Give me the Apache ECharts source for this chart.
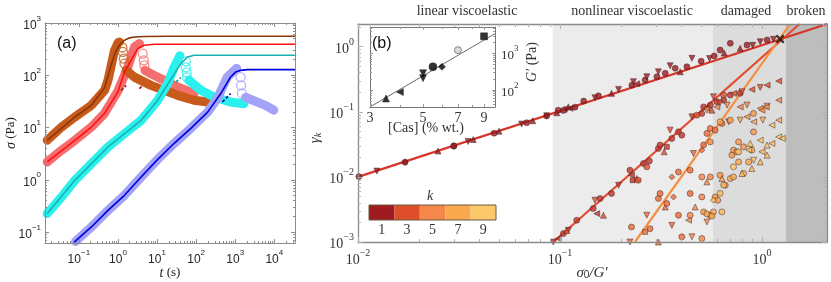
<!DOCTYPE html>
<html><head><meta charset="utf-8">
<script src="https://cdn.jsdelivr.net/npm/echarts@6/dist/echarts.min.js"></script>
<style>html,body{margin:0;padding:0;background:#fff}#c{width:831px;height:282px}</style>
</head><body><div id="c"></div>
<script>
// ================= Panel (a): [t (s), sigma (Pa)] =================
const brownBand      = [[0.0155,5.7],[0.036,10.2],[0.079,15.9],[0.209,26.6],[0.456,51.5],[0.557,80],[0.676,155],[0.819,300],[1.02,427],[1.10,433]];
const brownBandAfter = [[1.63,124],[2.64,92],[7.0,64],[33.6,41.3],[89,33.2],[195,30.8]];
const brownOpen      = [[1.30,340],[1.34,279],[1.42,208],[1.47,167]];
const brownModel     = [[0.0155,5.7],[0.079,15.9],[0.209,26.6],[0.456,58],[0.676,160],[0.9,300],[1.1,380],[1.47,467],[2.0,520],[2.64,540],[5,553],[20,556],[33800,556]];
const brownDash      = [[1.21,51.5],[1.63,64]];

const salmonBand      = [[0.0155,2.19],[0.036,3.66],[0.079,5.69],[0.209,10.2],[0.45,18.5],[1.0,50],[1.8,144],[2.64,347],[3.55,404]];
const salmonBandAfter = [[4.9,124],[7.0,107],[33.6,59.6],[89,44.6]];
const salmonOpen      = [[4.3,259],[4.6,193],[4.75,155]];
const redModel        = [[0.0155,2.19],[0.079,5.69],[0.209,10.2],[0.45,18.5],[1.0,48],[1.47,115],[2.41,223],[3.23,324],[4.75,374],[8.5,391],[33800,391]];
const redDash         = [[3.55,55.5],[4.33,64]];

const cyanBand      = [[0.0155,0.225],[0.036,0.468],[0.079,0.975],[0.209,2.04],[0.557,4.24],[1.47,7.64],[3.92,13.7],[10.4,33.2],[18.7,69.2],[27.5,144],[38.5,236]];
const cyanBandAfter = [[65.2,80],[132,51.5],[287,38.4],[748,30.8],[1660,28.6]];
const cyanOpen      = [[54.7,185],[54.7,142],[57,114],[59,91]];
const tealModel     = [[0.0155,0.225],[0.079,0.975],[0.557,4.24],[3.92,13.7],[10.4,33.2],[23,86],[40.8,167],[60,223],[89,241],[33800,241]];
const tealDash      = [[30.4,74.3],[40.8,90]];

const lavBand      = [[0.082,0.066],[0.209,0.125],[0.557,0.26],[1.47,0.504],[3.92,1.13],[10.4,2.46],[27.5,4.99],[73.3,9.66],[195,19.5],[351,36.2],[630,92.6],[1090,136]];
const lavBandAfter = [[1840,37.9],[3300,31.7],[5940,26.6],[9700,21.5]];
const lavOpen      = [[1370,92],[1420,64],[1480,45]];
const blueModel    = [[0.076,0.064],[0.209,0.125],[0.557,0.26],[1.47,0.504],[3.92,1.13],[10.4,2.46],[27.5,4.99],[73.3,9.66],[195,19.5],[428,44.6],[764,92.6],[1023,115],[1371,124],[2032,128],[33800,128]];
const blueDash     = [[470,30.8],[764,44.6]];

// ================= Panel (b): [sigma0/G', gamma_k, shape] =================
// shapes: 0 circle, 1 triangle up, 2 triangle down, 3 triangle left, 4 square, 5 diamond, 6 circle-x
const k1Points = [[0.0101,0.0101,0],[0.0124,0.0123,2],[0.0171,0.0170,5],[0.0171,0.0168,0],[0.0249,0.0250,1],[0.0298,0.0297,0],[0.0298,0.030,6],[0.0351,0.0350,2],[0.0372,0.0375,1],[0.0472,0.047,0],[0.0499,0.0505,1],[0.0646,0.0648,2],[0.0684,0.068,0],[0.0733,0.073,1],[0.0859,0.086,0],[0.0859,0.087,2],[0.0964,0.097,1],[0.1038,0.105,0],[0.1079,0.108,2],[0.112,0.113,3],[0.1186,0.118,0],
  [0.098,0.106,0],[0.110,0.119,1],[0.131,0.146,0],[0.149,0.164,2],[0.155,0.176,0],[0.180,0.192,1],[0.195,0.221,2],[0.227,0.257,0],[0.231,0.290,2],[0.24,0.27,3],[0.264,0.307,0],[0.269,0.345,2],[0.302,0.345,0],[0.307,0.412,2],[0.332,0.390,0],[0.351,0.510,2],[0.372,0.466,0],[0.394,0.412,1],[0.425,0.492,0],[0.450,0.663,2],[0.50,0.60,0],[0.55,0.66,2],[0.58,0.72,0],[0.621,0.889,0],[0.65,0.80,1],[0.697,1.13,0],[0.780,0.945,1],[0.843,1.06,0],[0.9,1.05,2],[0.981,1.19,2],[1.06,1.27,0],[1.14,1.30,2]];
const k2Points = [[0.0927,0.00100,2],[0.098,0.00113,3],[0.104,0.00135,0],[0.110,0.00151,2],[0.121,0.00216,0],[0.146,0.00327,0],[0.152,0.00273,3],[0.158,0.00466,0],[0.180,0.00556,0],[0.195,0.00745,2],[0.222,0.0127,0],[0.226,0.0106,3],[0.229,0.00889,4],[0.259,0.0161,0],[0.277,0.0176,6],[0.307,0.0274,0],[0.313,0.0308,0],[0.338,0.0290,4],[0.358,0.0390,0],[0.386,0.0492,0],[0.401,0.0438,6],[0.450,0.0838,2],[0.504,0.0944,0],[0.514,0.119,0],[0.555,0.127,0],[0.598,0.143,0],[0.646,0.151,0],[0.697,0.181,0],[0.780,0.192,0]];
const k3Points = [[0.108,0.0015,1],[0.149,0.00438,2],[0.164,0.00258,1],[0.240,0.00944,1],[0.244,0.00889,0],[0.269,0.01426,0],[0.328,0.0243,1],[0.351,0.0523,2],[0.476,0.0889,0],[0.534,0.113,3],[0.565,0.106,1],[0.617,0.135,2],[0.575,0.170,2],[0.646,0.181,0],[0.723,0.192,3],[0.796,0.203,2],[0.891,0.221,3],[0.98,0.237,2],[1.06,0.257,3],[1.21,0.297,3]];
const k4Points = [[0.226,0.0017,0],[0.222,0.001,2],[0.264,0.00143,4],[0.279,0.0016,0],[0.269,0.00258,2],[0.307,0.00466,0],[0.313,0.00556,6],[0.332,0.00345,1],[0.338,0.0039,0],[0.358,0.0018,2],[0.365,0.00492,5],[0.307,0.001,1],[0.386,0.00258,0],[0.401,0.0012,6],[0.441,0.00556,6],[0.358,0.01,5],[0.386,0.0119,0],[0.441,0.0127,6],[0.458,0.0229,2],[0.504,0.0258,5],[0.514,0.0308,6],[0.534,0.0466,0],[0.555,0.0555,6],[0.586,0.0523,0],[0.634,0.0662,0],[0.684,0.0702,2]];
const k5Points = [[0.433,0.00216,3],[0.45,0.0012,2],[0.441,0.00258,6],[0.467,0.00345,1],[0.504,0.00113,6],[0.504,0.00492,6],[0.534,0.00203,2],[0.555,0.00258,6],[0.504,0.01,0],[0.555,0.01,0],[0.534,0.0084,1],[0.555,0.0345,6],[0.534,0.106,2],[0.598,0.119,3],[0.672,0.127,2],[0.780,0.119,3],[0.843,0.127,2],[0.981,0.113,3],[1.06,0.122,2],[1.21,0.151,3]];
const k6Points = [[0.514,0.0029,0],[0.586,0.00492,6],[0.604,0.00438,0],[0.621,0.0106,6],[0.634,0.00944,1],[0.658,0.00745,0],[0.71,0.0216,6],[0.723,0.0258,6],[0.751,0.0243,0],[0.766,0.0345,0],[0.811,0.029,6],[0.908,0.0492,0],[0.843,0.0838,3],[0.908,0.0944,0],[1.0,0.106,3],[1.05,0.119,3]];
const k7Points = [[0.621,0.0702,0],[0.697,0.0745,6],[0.78,0.0745,2],[0.91,0.0702,3],[1.01,0.0745,2],[1.21,0.0745,3],[0.697,0.00944,6],[0.723,0.01,0],[0.766,0.017,0],[0.811,0.0113,6],[0.859,0.017,6],[0.891,0.0258,0],[0.575,0.0029,0],[0.534,0.0027,6],[0.565,0.0025,0]];
const k8Points = [[0.891,0.0135,1],[0.98,0.017,1],[1.0,0.0243,3],[1.06,0.0216,1],[1.12,0.0327,3],[0.646,0.0075,6],[0.621,0.0056,0],[0.575,0.0044,5],[0.634,0.0029,0]];
const k9Points = [[0.875,0.0327,1],[0.98,0.0366,3],[1.06,0.0308,1],[1.21,0.0412,3],[0.766,0.0243,0],[0.86,0.026,3],[1.12,0.0624,3],[1.26,0.039,3],[0.723,0.0143,0],[0.796,0.0113,1],[0.91,0.018,2]];
const fitLine1 = [[0.01,0.01],[2.1,2.23]];
const fitLine2 = [[0.0927,0.001],[1.535,2.23]];
const fitLine3 = [[0.235,0.001],[1.377,2.23]];
const crossPoint = [[1.23,1.31]];
const regionStart = [0.092, 0.571, 1.31];
const regionEnd   = [0.571, 1.31, 2.1];
const regionNames = ['linear viscoelastic','nonlinear viscoelastic','damaged','broken'];
const colorbarTicks = ['1','3','5','7','9'];

// ================= Inset: [Cas (% wt.), G' (Pa), shape] =================
const insetPoints = [[3.5,58,1],[4,87,3],[5,285,2],[5,210,2],[5.5,430,0],[6,430,5],[7,1230,6],[9,2950,4]];
const insetFit = [[3,34],[10,3500]];
const insetXTicks = [3,5,7,9];

// ----------------------------------------------------------------
const L = Math.log10;
const T = arr => arr.map(p => [L(p[0]), L(p[1])].concat(p.slice(2)));
const kColors = ['#9e1b22','#c3342a','#df4e2a','#ec6a38','#f5874a','#f8984c','#f9a94e','#fbb95c','#fdc86a'];
const SHAPES = ['circle','triangle','path://M0,0L2,0L1,1.75Z','path://M1.75,0L1.75,2L0,1Z','rect','diamond','circle'];
const SANS = 'Liberation Sans', SERIF = 'Liberation Serif';

function minors(eMin, eMax, lo, hi){ const r=[]; for(let e=eMin;e<=eMax;e++) for(let m=2;m<=9;m++){const v=e+L(m); if(v>lo&&v<hi) r.push(v);} return r; }
function sup(v){ const n=Math.round(v); return n<0 ? '\u2212'+(-n) : String(n); }
const powFmt = v => '{b|10}{s|' + sup(v) + '}';
function powRich(font, size, color){ return { b:{fontFamily:font,fontSize:size,color:color,verticalAlign:'bottom',lineHeight:size+5}, s:{fontFamily:font,fontSize:Math.round(size*0.68),color:color,verticalAlign:'top',lineHeight:Math.round(size*0.75)} }; }

const xAxes=[], yAxes=[];
function addAxes(list, dim, grid, o){
  const idx = list.length;
  const A = dim==='x'?'bottom':'left', B = dim==='x'?'top':'right';
  const mainPos = o.labelSide || A, other = mainPos===A?B:A;
  const base = {type:'value', gridIndex:grid, min:o.min, max:o.max, splitLine:{show:false}, z:6, silent:true};
  const line = {show:true, onZero:false, lineStyle:{color:o.color, width:o.lw||1}};
  const noLine = {show:false, onZero:false};
  list.push(Object.assign({}, base, {position:mainPos, axisLine:line,
    axisTick:{show:true, inside:true, length:o.majorLen, customValues:o.majors, lineStyle:{color:o.tickColor||o.color}},
    axisLabel:Object.assign({show:true, customValues:o.majors, formatter:o.fmt}, o.label)}));
  list.push(Object.assign({}, base, {position:other, axisLine:line,
    axisTick:{show:true, inside:true, length:o.majorLen, customValues:o.majors, lineStyle:{color:o.tickColor||o.color}}, axisLabel:{show:false}}));
  list.push(Object.assign({}, base, {position:mainPos, axisLine:noLine,
    axisTick:{show:true, inside:true, length:o.minorLen, customValues:o.minorVals, lineStyle:{color:o.tickColor||o.color}}, axisLabel:{show:false}}));
  list.push(Object.assign({}, base, {position:other, axisLine:noLine,
    axisTick:{show:true, inside:true, length:o.minorLen, customValues:o.minorVals, lineStyle:{color:o.tickColor||o.color}}, axisLabel:{show:false}}));
  return idx;
}

// Panel a axes
const aX = addAxes(xAxes,'x',0,{min:-1.866,max:4.53,majors:[-1,0,1,2,3,4],minorVals:minors(-2,4,-1.866,4.53),color:'#8c8c8c',majorLen:4,minorLen:2,
  fmt:powFmt,label:{margin:6,rich:powRich(SANS,12,'#262626')}});
const aY = addAxes(yAxes,'y',0,{min:-1.21,max:3.0,majors:[-1,0,1,2,3],minorVals:minors(-2,2,-1.21,3.0),color:'#8c8c8c',majorLen:4,minorLen:2,
  fmt:powFmt,label:{margin:4,rich:powRich(SANS,12,'#262626')}});
// Panel b axes
const bX = addAxes(xAxes,'x',1,{min:-2,max:0.322,majors:[-2,-1,0],minorVals:minors(-2,0,-2,0.322),color:'#8a8a8a',tickColor:'#b0b0b0',lw:1.3,majorLen:5,minorLen:3,
  fmt:powFmt,label:{margin:6,rich:powRich(SERIF,14,'#333')}});
const bY = addAxes(yAxes,'y',1,{min:-3,max:0.349,majors:[-3,-2,-1,0],minorVals:minors(-3,0,-3,0.349),color:'#8a8a8a',tickColor:'#b0b0b0',lw:1.3,majorLen:5,minorLen:3,
  fmt:powFmt,label:{margin:4,rich:powRich(SERIF,14,'#333')}});
// Inset axes
const iX = addAxes(xAxes,'x',2,{min:L(3),max:1.0,majors:insetXTicks.map(L),minorVals:[L(4),L(6),L(8)],color:'#777',tickColor:'#999',majorLen:3,minorLen:2,
  fmt:v=>String(Math.round(Math.pow(10,v))),label:{margin:4,fontFamily:SERIF,fontSize:14,color:'#333'}});
const iY = addAxes(yAxes,'y',2,{min:1.53,max:3.725,majors:[2,3],minorVals:minors(1,3,1.53,3.725),color:'#777',tickColor:'#999',majorLen:3,minorLen:2,labelSide:'right',
  fmt:powFmt,label:{margin:6,rich:powRich(SERIF,13,'#333')}});

const series = [];
function band(data, color, z){ series.push({type:'line', xAxisIndex:aX, yAxisIndex:aY, data:T(data), symbol:'none', clip:false, z:z, silent:true,
  lineStyle:{width:9, color:color, cap:'round', join:'round'}}); }
function model(data, color, z, dashed){ series.push({type:'line', xAxisIndex:aX, yAxisIndex:aY, data:T(data), symbol:'none', z:z, silent:true,
  lineStyle:{width:1.6, color:color, type:dashed?[3,2]:'solid'}}); }
function openC(data, color, z){ series.push({type:'scatter', xAxisIndex:aX, yAxisIndex:aY, data:T(data), symbol:'circle', symbolSize:9, z:z, silent:true,
  itemStyle:{color:'rgba(0,0,0,0)', borderColor:color, borderWidth:1.3}}); }

band(salmonBand,'#f56e6e',2); band(salmonBandAfter,'#f56e6e',2); openC(salmonOpen,'#f56e6e',2);
band(brownBand,'#c85a1c',3); band(brownBandAfter,'#c85a1c',3); openC(brownOpen,'#c85a1c',3);
band(cyanBand,'#2cf0ee',4); band(cyanBandAfter,'#2cf0ee',4); openC(cyanOpen,'#2cf0ee',4);
band(lavBand,'#a2a2f6',5); band(lavBandAfter,'#a2a2f6',5); openC(lavOpen,'#a2a2f6',5);
model(brownModel,'#8a3608',6); model(redModel,'#ff1010',6); model(tealModel,'#19b2b0',6); model(blueModel,'#0000e0',6);
model(brownDash,'#7a2e06',7,true); model(redDash,'#c00000',7,true); model(tealDash,'#119090',7,true); model(blueDash,'#0000a0',7,true);

// Panel b shaded regions
const regionColors = ['#ececec','#dcdcdc','#bdbdbd'];
series.push({type:'custom', xAxisIndex:bX, yAxisIndex:bY, z:1, silent:true, clip:true,
  data: regionStart.map((s,i)=>[L(s), L(regionEnd[i])]),
  renderItem:(params, api)=>{ const x0=api.coord([api.value(0),0])[0], x1=api.coord([api.value(1),0])[0], cs=params.coordSys;
    return {type:'rect', shape:{x:x0, y:cs.y, width:x1-x0, height:cs.height}, style:{fill:regionColors[params.dataIndex]}}; }});
// fit lines
[[fitLine1,'#d8352a'],[fitLine2,'#e34a2e'],[fitLine3,'#f59040']].forEach(([d,c])=>series.push({type:'line', xAxisIndex:bX, yAxisIndex:bY, data:T(d), symbol:'none', z:4, silent:true, lineStyle:{width:2.2,color:c}}));
// points
[k1Points,k2Points,k3Points,k4Points,k5Points,k6Points,k7Points,k8Points,k9Points].forEach((pts,i)=>series.push({type:'scatter', xAxisIndex:bX, yAxisIndex:bY, data:T(pts), z:5, silent:true,
  symbol:v=>SHAPES[v[2]], symbolSize:v=>v[2]===4?5:6, itemStyle:{color:kColors[i], borderColor:'#3a2020', borderWidth:0.6}}));
series.push({type:'scatter', xAxisIndex:bX, yAxisIndex:bY, data:T(crossPoint), z:8, silent:true, symbol:'path://M0,0.18L0.18,0L0.5,0.32L0.82,0L1,0.18L0.68,0.5L1,0.82L0.82,1L0.5,0.68L0.18,1L0,0.82L0.32,0.5Z', symbolSize:9, itemStyle:{color:'#111'}});
// inset
series.push({type:'line', xAxisIndex:iX, yAxisIndex:iY, data:T(insetFit), symbol:'none', z:4, silent:true, lineStyle:{width:0.8,color:'#444'}});
series.push({type:'scatter', xAxisIndex:iX, yAxisIndex:iY, data:T(insetPoints), z:5, silent:true,
  symbol:v=>SHAPES[v[2]], symbolSize:v=>v[2]===6?7:(v[2]===0?8:7),
  itemStyle:{color:p=>p.data[2]===6?'#cfcfcf':'#000', borderColor:'#222', borderWidth:0.6}});

// texts
const g = [];
function txt(x,y,text,font,opts){ g.push(Object.assign({type:'text', x:x, y:y, silent:true, z:20, style:Object.assign({text:text, font:font, fill:'#333', align:'center', verticalAlign:'middle'}, opts&&opts.style||{})}, opts&&opts.el||{})); }
txt(57,44,'(a)','16px "Liberation Sans"',{style:{align:'left',fill:'#111'}});
txt(372,44,'(b)','16px "Liberation Sans"',{style:{align:'left',fill:'#111'}});
txt(11,133,'{i|σ} (Pa)','13px "Liberation Serif"',{el:{rotation:Math.PI/2},style:{fill:'#222',rich:{i:{fontFamily:SERIF,fontStyle:'italic',fontSize:14,fill:'#222'}}}});
txt(170,273,'{i|t} (s)','13px "Liberation Serif"',{style:{fill:'#222',rich:{i:{fontFamily:SERIF,fontStyle:'italic',fontSize:14,fill:'#222'}}}});
[467,632,746,806].forEach((x,i)=>txt(x,11,regionNames[i],'14px "Liberation Serif"'));
txt(315,138,'{g|γ}{k|k}','14px "Liberation Serif"',{el:{rotation:Math.PI/2},style:{rich:{g:{fontFamily:SERIF,fontStyle:'italic',fontSize:15,fill:'#333',verticalAlign:'bottom',lineHeight:16},k:{fontFamily:SERIF,fontStyle:'italic',fontSize:10,fill:'#333',verticalAlign:'bottom',lineHeight:12}}}});
txt(592,272,'{i|σ}{s|0}{i|/G′}','14px "Liberation Serif"',{style:{rich:{i:{fontFamily:SERIF,fontStyle:'italic',fontSize:15,fill:'#333',verticalAlign:'bottom',lineHeight:17},s:{fontFamily:SANS,fontSize:10,fill:'#333',verticalAlign:'bottom',lineHeight:12}}}});
txt(426,128,'[Cas] (% wt.)','14px "Liberation Serif"');
txt(532,62,'{i|G′} (Pa)','14px "Liberation Serif"',{el:{rotation:Math.PI/2},style:{rich:{i:{fontFamily:SERIF,fontStyle:'italic',fontSize:14,fill:'#333'}}}});
// colorbar legend
const cbX0=369, cbW=127, cbY=205, cbH=15;
colorbarTicks.forEach((t,i)=>{ g.push({type:'rect', silent:true, z:20, shape:{x:cbX0+i*cbW/5, y:cbY, width:cbW/5, height:cbH}, style:{fill:kColors[i*2]}});
  txt(cbX0+(i+0.5)*cbW/5, cbY+cbH+10, t, '14px "Liberation Serif"'); });
g.push({type:'rect', silent:true, z:21, shape:{x:cbX0, y:cbY, width:cbW, height:cbH}, style:{fill:'none', stroke:'#6a5a40', lineWidth:1}});
txt(430,196,'k','italic 14px "Liberation Serif"');

const chart = echarts.init(document.getElementById('c'));
chart.setOption({
  animation:false, backgroundColor:'#fff',
  grid:[{left:45,top:23,width:250,height:220,outerBoundsMode:'none'},
        {left:358,top:24,width:469,height:218,outerBoundsMode:'none'},
        {left:370,top:27,width:125,height:80,show:true,backgroundColor:'#fff',borderWidth:0,z:3,outerBoundsMode:'none'}],
  xAxis:xAxes, yAxis:yAxes, series:series, graphic:g
});
</script></body></html>
